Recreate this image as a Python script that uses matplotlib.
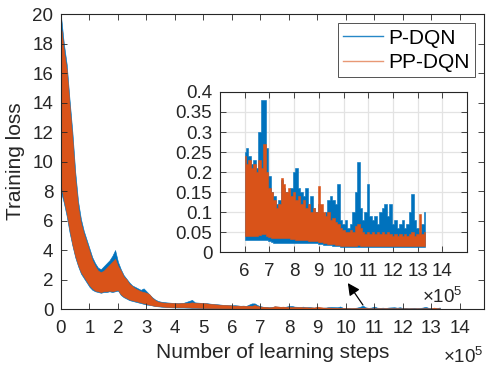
import numpy as np
import matplotlib
matplotlib.use('Agg')
import matplotlib.pyplot as plt
from matplotlib.lines import Line2D

plt.rcParams['font.family'] = ['Liberation Sans', 'DejaVu Sans']
plt.rcParams['mathtext.fontset'] = 'custom'
plt.rcParams['mathtext.rm'] = 'Liberation Sans'

blue = '#0072BD'
orange = '#D95319'
axcol = '#262626'

# learning steps (x 1e5), early part of training
steps_head = [0.0, 0.02, 0.1, 0.2, 0.3, 0.4, 0.5, 0.6, 0.7, 0.8, 0.9, 1.0, 1.1, 1.2, 1.3,
              1.4, 1.5, 1.6, 1.7, 1.8, 1.9, 2.0, 2.1, 2.2, 2.3, 2.4, 2.5, 2.6, 2.7, 2.8,
              2.9, 3.0, 3.1, 3.2, 3.3, 3.4, 3.5, 3.7, 3.9, 4.1, 4.3, 4.5, 4.6, 4.7, 4.9,
              5.1, 5.3, 5.5, 5.7, 5.9]
# later part (shown in the zoomed inset)
steps_tail = [6.0, 6.1, 6.2, 6.3, 6.4, 6.5, 6.6, 6.7, 6.8, 6.9, 7.0, 7.1, 7.2, 7.3, 7.4,
              7.5, 7.6, 7.7, 7.8, 7.9, 8.0, 8.1, 8.2, 8.3, 8.4, 8.5, 8.6, 8.7, 8.8, 8.9,
              9.0, 9.1, 9.2, 9.3, 9.4, 9.5, 9.6, 9.7, 9.8, 9.9, 10.0, 10.1, 10.2, 10.3, 10.4,
              10.5, 10.6, 10.7, 10.8, 10.9, 11.0, 11.1, 11.2, 11.3, 11.4, 11.5, 11.6, 11.7,
              11.8, 11.9, 12.0, 12.1, 12.2, 12.3, 12.4, 12.5, 12.6, 12.7, 12.8, 12.9, 13.0,
              13.1, 13.2, 13.3]

# P-DQN loss band (upper / lower envelope of the noisy curve)
p_hi_head = [19.8, 19.5, 18.0, 16.6, 14.2, 12.0, 9.3, 7.3, 6.1, 5.3, 4.7, 4.1, 3.5, 3.1, 2.8,
             2.7, 2.9, 3.1, 3.3, 3.6, 4.0, 3.2, 2.7, 2.3, 2.05, 1.8, 1.6, 1.5, 1.4, 1.3,
             1.4, 1.2, 1.0, 0.8, 0.65, 0.55, 0.5, 0.45, 0.42, 0.4, 0.42, 0.55, 0.62, 0.45, 0.42,
             0.4, 0.35, 0.32, 0.28, 0.26]
p_lo_head = [7.5, 7.8, 7.2, 6.3, 5.2, 4.3, 3.5, 2.9, 2.4, 2.1, 1.8, 1.5, 1.3, 1.2, 1.15,
             1.1, 1.15, 1.15, 1.2, 1.15, 1.2, 1.25, 0.95, 0.8, 0.7, 0.6, 0.55, 0.5, 0.45, 0.4,
             0.35, 0.3, 0.28, 0.24, 0.2, 0.18, 0.16, 0.13, 0.11, 0.1, 0.1, 0.09, 0.08, 0.08, 0.07,
             0.06, 0.05, 0.045, 0.04, 0.035]
p_hi_tail = [0.25, 0.26, 0.24, 0.22, 0.23, 0.21, 0.30, 0.38, 0.38, 0.26, 0.19, 0.15, 0.14, 0.12, 0.13,
             0.18, 0.16, 0.15, 0.14, 0.16, 0.20, 0.21, 0.16, 0.15, 0.14, 0.16, 0.12, 0.14, 0.11, 0.10,
             0.12, 0.10, 0.09, 0.10, 0.13, 0.14, 0.13, 0.12, 0.17, 0.08, 0.07, 0.08, 0.06, 0.07, 0.10,
             0.15, 0.225, 0.11, 0.08, 0.10, 0.17, 0.09, 0.08, 0.09, 0.07, 0.10, 0.11, 0.12,
             0.09, 0.12, 0.07, 0.08, 0.06, 0.07, 0.08, 0.06, 0.07, 0.10, 0.145, 0.08, 0.06,
             0.05, 0.07, 0.10]
p_lo_tail = [0.03, 0.03, 0.03, 0.03, 0.03, 0.03, 0.03, 0.03, 0.03, 0.03, 0.028, 0.025, 0.023, 0.022, 0.022,
             0.022, 0.022, 0.022, 0.022, 0.022, 0.022, 0.022, 0.022, 0.022, 0.022, 0.022, 0.022, 0.022, 0.022, 0.022,
             0.02, 0.019, 0.018, 0.018, 0.018, 0.017, 0.016, 0.015, 0.014, 0.013, 0.012, 0.012, 0.012, 0.012, 0.012,
             0.012, 0.012, 0.012, 0.012, 0.012, 0.012, 0.012, 0.012, 0.012, 0.012, 0.012, 0.012, 0.012,
             0.012, 0.012, 0.012, 0.012, 0.012, 0.012, 0.012, 0.012, 0.012, 0.012, 0.012, 0.012, 0.012,
             0.012, 0.012, 0.012]

# PP-DQN loss band
pp_hi_head = [18.8, 18.9, 17.5, 16.2, 13.8, 11.5, 8.8, 6.9, 5.8, 5.1, 4.5, 3.9, 3.3, 2.9, 2.6,
              2.5, 2.6, 2.8, 3.0, 3.2, 3.4, 2.9, 2.6, 2.2, 2.0, 1.7, 1.55, 1.4, 1.3, 1.2,
              1.15, 1.1, 1.0, 0.75, 0.6, 0.5, 0.45, 0.42, 0.4, 0.38, 0.4, 0.42, 0.45, 0.42, 0.4,
              0.38, 0.33, 0.3, 0.27, 0.25]
pp_lo_head = [8.3, 8.2, 7.4, 6.5, 5.4, 4.4, 3.6, 3.0, 2.5, 2.2, 1.9, 1.6, 1.4, 1.25, 1.2,
              1.15, 1.2, 1.2, 1.25, 1.2, 1.25, 1.3, 1.0, 0.85, 0.75, 0.65, 0.6, 0.55, 0.5, 0.45,
              0.4, 0.35, 0.3, 0.25, 0.22, 0.2, 0.18, 0.15, 0.13, 0.12, 0.12, 0.11, 0.1, 0.1, 0.09,
              0.08, 0.07, 0.06, 0.055, 0.05]
pp_hi_tail = [0.24, 0.22, 0.23, 0.21, 0.22, 0.20, 0.23, 0.21, 0.27, 0.20, 0.16, 0.15, 0.13, 0.11, 0.12,
              0.185, 0.17, 0.15, 0.16, 0.14, 0.15, 0.13, 0.14, 0.12, 0.13, 0.11, 0.12, 0.10, 0.11, 0.10,
              0.165, 0.12, 0.10, 0.09, 0.10, 0.08, 0.085, 0.075, 0.07, 0.06, 0.055, 0.05, 0.05, 0.055, 0.05,
              0.065, 0.07, 0.06, 0.05, 0.045, 0.05, 0.045, 0.05, 0.045, 0.05, 0.045, 0.05, 0.045,
              0.05, 0.045, 0.04, 0.045, 0.04, 0.045, 0.04, 0.045, 0.04, 0.045, 0.05, 0.04, 0.045,
              0.095, 0.045, 0.05]
pp_lo_tail = [0.04, 0.04, 0.04, 0.04, 0.04, 0.04, 0.042, 0.045, 0.045, 0.04, 0.038, 0.035, 0.035, 0.035, 0.035,
              0.035, 0.035, 0.035, 0.034, 0.033, 0.032, 0.031, 0.03, 0.03, 0.03, 0.029, 0.028, 0.028, 0.027, 0.027,
              0.025, 0.024, 0.023, 0.022, 0.021, 0.02, 0.019, 0.018, 0.017, 0.016, 0.015, 0.015, 0.015, 0.015, 0.015,
              0.016, 0.018, 0.016, 0.015, 0.015, 0.015, 0.015, 0.015, 0.015, 0.015, 0.015, 0.015, 0.015,
              0.015, 0.015, 0.015, 0.015, 0.015, 0.015, 0.015, 0.015, 0.015, 0.015, 0.015, 0.015, 0.015,
              0.015, 0.015, 0.015]

steps = steps_head + steps_tail
p_hi = p_hi_head + p_hi_tail
p_lo = p_lo_head + p_lo_tail
pp_hi = pp_hi_head + pp_hi_tail
pp_lo = pp_lo_head + pp_lo_tail


def style_axes(ax):
    for s in ax.spines.values():
        s.set_color(axcol)
        s.set_linewidth(0.8)
    ax.tick_params(direction='in', top=True, right=True, length=4, width=0.6,
                   colors=axcol, labelsize=13.5, labelcolor=axcol)
    ax.tick_params(axis='x', pad=8)
    ax.tick_params(axis='y', pad=5.5)


fig = plt.figure(figsize=(4.86, 3.69), dpi=100)
ax = fig.add_axes([0.1255, 0.1626, 0.8704, 0.7994])
ax.fill_between(steps, p_lo, p_hi, color=blue, lw=0.4)
ax.fill_between(steps, pp_lo, pp_hi, color=orange, lw=0.4)
ax.set_xlim(0, 14.85)
ax.set_ylim(0, 20)
ax.set_xticks(range(0, 15))
ax.set_yticks(range(0, 21, 2))
style_axes(ax)
ax.set_xlabel('Number of learning steps', fontsize=15, color=axcol, labelpad=4)
ax.set_ylabel('Training loss', fontsize=15, color=axcol, labelpad=5)
fig.text(0.996, 1 - 357 / 369, r'$\times\mathregular{10^5}$', fontsize=13.5,
         color=axcol, ha='right', va='center')

handles = [Line2D([], [], color=blue, lw=1, alpha=0.85),
           Line2D([], [], color=orange, lw=1, alpha=0.6)]
leg = ax.legend(handles, ['P-DQN', 'PP-DQN'], loc='upper right', fontsize=15,
                fancybox=False, edgecolor=axcol, handlelength=1.9, handletextpad=0.25,
                borderpad=0.25, labelspacing=0.25, borderaxespad=0.45)
leg.get_frame().set_linewidth(0.7)

ax.annotate('', xy=(10.07, 1.76), xytext=(10.6, 0.27),
            arrowprops=dict(arrowstyle='-|>', color='black', lw=0.9, mutation_scale=18,
                            shrinkA=0, shrinkB=0))

# zoomed inset of the later steps
ins = fig.add_axes([0.4527, 0.317, 0.5082, 0.4337])
ins.fill_between(steps_tail, p_lo_tail, p_hi_tail, color=blue, lw=0.4, step='mid')
ins.fill_between(steps_tail, pp_lo_tail, pp_hi_tail, color=orange, lw=0.4, step='mid')
ins.set_xlim(5, 15)
ins.set_ylim(0, 0.4)
ins.set_xticks(range(6, 15))
ins.set_yticks([0, 0.05, 0.1, 0.15, 0.2, 0.25, 0.3, 0.35, 0.4])
ins.set_yticklabels(['0', '0.05', '0.1', '0.15', '0.2', '0.25', '0.3', '0.35', '0.4'])
ins.grid(True, color='#e3e3e3', lw=0.9)
ins.set_axisbelow(True)
style_axes(ins)
ins.text(0.9, -0.28, r'$\times\mathregular{10^5}$', transform=ins.transAxes,
         fontsize=13.5, color=axcol, ha='center', va='center')

fig.savefig('out.png', dpi=100)
